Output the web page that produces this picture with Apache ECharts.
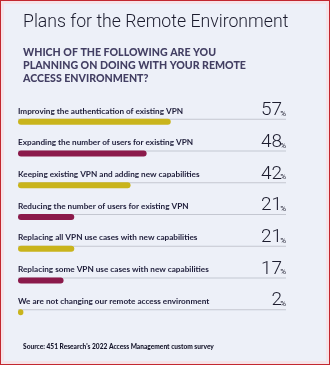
<!DOCTYPE html>
<html>
<head>
<meta charset="utf-8">
<script src="https://cdn.jsdelivr.net/npm/echarts@6/dist/echarts.min.js"></script>
<style>
  html, body { margin: 0; padding: 0; background: #fff; }
  #chart {
    width: 330px; height: 365px; box-sizing: border-box;
    border: 1px solid #c3272f;
    box-shadow: inset 0 0 0 3px #f6e3e8;
    background: #edf0f8;
  }
</style>
</head>
<body>
<div id="chart"></div>
<script>
const categories = [
  'Improving the authentication of existing VPN',
  'Expanding the number of users for existing VPN',
  'Keeping existing VPN and adding new capabilities',
  'Reducing the number of users for existing VPN',
  'Replacing all VPN use cases with new capabilities',
  'Replacing some VPN use cases with new capabilities',
  'We are not changing our remote access environment'
]
const values = [57, 48, 42, 21, 21, 17, 2]
const barColors = ['#c9b41c', '#8b1a4b', '#c9b41c', '#8b1a4b', '#c9b41c', '#8b1a4b', '#c9b41c']
const fullScale = [100, 100, 100, 100, 100, 100, 100]

const chart = echarts.init(document.getElementById('chart'))

const option = {
  animation: false,
  title: [
    {
      text: 'Plans for the Remote Environment',
      left: 17, top: 8,
      textStyle: { fontFamily: 'Roboto', fontWeight: 300, fontSize: 17.7, color: '#1c1c2e' }
    },
    {
      text: 'WHICH OF THE FOLLOWING ARE YOU\nPLANNING ON DOING WITH YOUR REMOTE\nACCESS ENVIRONMENT?',
      left: 17, top: 40,
      textStyle: { fontFamily: 'Lato', fontWeight: 900, fontSize: 10.6, lineHeight: 13, color: '#433f63' }
    },
    {
      text: 'Source: 451 Research\'s 2022 Access Management custom survey',
      left: 17, top: 337,
      textStyle: { fontFamily: 'Lato', fontWeight: 900, fontSize: 6.6, color: '#15152a' }
    }
  ],
  grid: { left: 17, right: 43, top: 105, bottom: 36 },
  xAxis: { type: 'value', min: 0, max: 100, show: false },
  yAxis: {
    type: 'category', data: categories, inverse: true,
    axisLine: { show: false }, axisTick: { show: false }, axisLabel: { show: false }
  },
  series: [
    {
      // thin rule under each bar, also carries the percentage
      type: 'bar',
      data: fullScale,
      barWidth: 1,
      itemStyle: { color: '#c4c7d1' },
      silent: true,
      z: 1,
      label: {
        show: true,
        position: ['100%', 0],
        align: 'right',
        verticalAlign: 'bottom',
        offset: [0, 1],
        formatter: p => '{n|' + values[p.dataIndex] + '}{p|%}',
        rich: {
          n: { fontFamily: 'Roboto', fontWeight: 300, fontSize: 19, color: '#1c1c2e', verticalAlign: 'bottom' },
          p: { fontFamily: 'Roboto', fontSize: 8, color: '#1c1c2e', verticalAlign: 'bottom', padding: [0, 0, 2, -2] }
        }
      }
    },
    {
      type: 'bar',
      data: values.map((v, i) => ({ value: v, itemStyle: { color: barColors[i] } })),
      barWidth: 6,
      barGap: '-100%',
      itemStyle: { borderRadius: 3 },
      z: 2,
      label: {
        show: true,
        position: [0, -8],
        align: 'left',
        verticalAlign: 'middle',
        formatter: p => categories[p.dataIndex],
        fontFamily: 'Lato',
        fontWeight: 'bold',
        fontSize: 8.2,
        color: '#1e1d3a'
      }
    }
  ]
}

chart.setOption(option)
</script>
</body>
</html>
